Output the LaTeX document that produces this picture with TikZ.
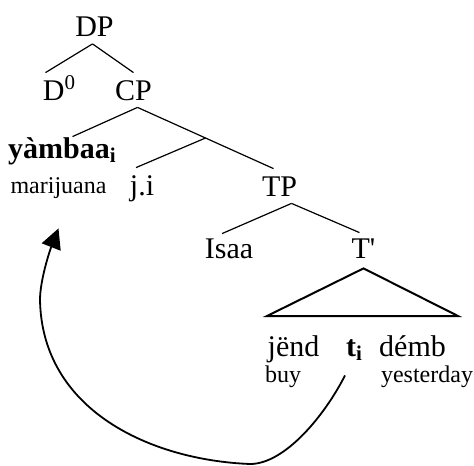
\documentclass[tikz,border=0pt]{standalone}
\usepackage{fontspec}
\setmainfont{Liberation Serif}
\usetikzlibrary{arrows.meta}

\begin{document}
\begin{tikzpicture}[
  x=0.5pt, y=-0.5pt,
  cat/.style={font=\fontsize{15}{18}\selectfont, anchor=base, inner xsep=1pt, inner ysep=3.5pt, text height=10pt, text depth=0pt},
  gloss/.style={cat, font=\fontsize{12}{14}\selectfont},
  branch/.style={draw, line width=0.6pt},
  roof/.style={draw, line width=1pt},
  movement/.style={-{Triangle[length=10pt, width=10pt]}, draw, line width=0.9pt},
]
\def\rooftop{316}      % base of the roof
\useasboundingbox (0,0) rectangle (474,465);

\node[cat] (dp) at (94.5,36.5) {DP};
\node[cat] (d0) at (59.5,100) {D\textsuperscript{0}};
\node[cat] (cp) at (133.5,100) {CP};

\node[cat] (yam) at (62.5,158) {\textbf{yàmbaa\textsubscript{i}}};
\node[gloss] (mar) at (58.5,193) {marijuana};
\node[cat] (ji) at (142,195) {j.i};
\node[cat] (tp) at (279.5,196) {TP};

\node[cat] (isaa) at (229,258) {Isaa};
\node[cat] (tbar) at (363.5,258) {T\textquotesingle};

\node[cat] (jend) at (293.5,356) {jënd};
\node[cat] (ti) at (354.5,356) {\textbf{t\textsubscript{i}}};
\node[cat] (demb) at (412.5,356) {démb};
\node[gloss] (buy) at (283,382) {buy};
\node[gloss] (yest) at (427,382) {yesterday};

\coordinate (roof-l) at (267,\rooftop);
\coordinate (roof-r) at (458,\rooftop);

\draw[branch] ([xshift=-1pt]dp.south) -- ([xshift=-7pt]d0.north);
\draw[branch] ([xshift=-1pt]dp.south) -- (cp.north);
\draw[branch] ([xshift=2pt]cp.south) -- ([xshift=5pt,yshift=-3pt]yam.north);
\draw[branch] ([xshift=2pt]cp.south) -- coordinate (cbar) ([xshift=-3pt]tp.north);
\draw[branch] (cbar) -- ([xshift=-3pt]ji.north);
\draw[branch] ([xshift=6pt]tp.south) -- ([xshift=-3.5pt,yshift=-1.5pt]isaa.north);
\draw[branch] ([xshift=6pt]tp.south) -- ([xshift=-2pt,yshift=-1pt]tbar.north);
\draw[roof] ([yshift=-1.5pt]tbar.south) -- (roof-l) -- (roof-r) -- cycle;

% movement of the object
\draw[movement] ([xshift=-4.75pt,yshift=-6pt]ti.south)
  .. controls (325,415) and (285,464) .. (250,464)
  .. controls (150,460) and (42,410) .. (40,300)
  .. controls (40,280) and (50,250) .. ([yshift=-14pt]mar.south);
\end{tikzpicture}
\end{document}
